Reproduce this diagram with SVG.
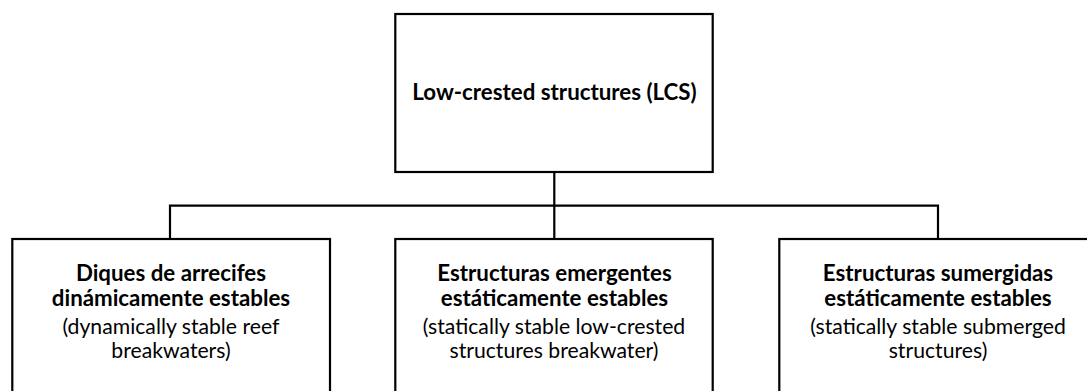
<svg xmlns="http://www.w3.org/2000/svg" width="1087" height="391" viewBox="0 0 1087 391">
<style>
.box{fill:#fff;stroke:#000;stroke-width:2.2}
.conn{fill:none;stroke:#000;stroke-width:2.2}
text{font-family:Lato,"Liberation Sans",sans-serif;fill:#000;text-anchor:middle}
.b{font-weight:bold;font-size:22.3px}
.r{font-size:21.2px}
</style>
<rect width="1087" height="391" fill="#fff"/>
<g id="connectors">
<path class="conn" d="M554.3,172 V238.5 M170,238.5 V205.7 H938 V238.5"/>
</g>
<g id="lcs">
<rect class="box" x="395.3" y="14" width="317.4" height="158"/>
<text class="b" x="554.5" y="99.5">Low-crested structures (LCS)</text>
</g>
<g id="dynamic">
<rect class="box" x="12.3" y="239" width="317.7" height="170"/>
<text class="b"><tspan x="171" y="281">Diques de arrecifes</tspan><tspan x="171" y="306">dinámicamente estables</tspan></text>
<text class="r"><tspan x="171" y="333.5">(dynamically stable reef</tspan><tspan x="171" y="358">breakwaters)</tspan></text>
</g>
<g id="emergent">
<rect class="box" x="395.3" y="239" width="317.4" height="170"/>
<text class="b"><tspan x="554.5" y="281">Estructuras emergentes</tspan><tspan x="554.5" y="306">estáticamente estables</tspan></text>
<text class="r"><tspan x="554" y="333.5">(statically stable low-crested</tspan><tspan x="554" y="358">structures breakwater)</tspan></text>
</g>
<g id="submerged">
<rect class="box" x="779.3" y="239" width="317.7" height="170"/>
<text class="b"><tspan x="938" y="281">Estructuras sumergidas</tspan><tspan x="938" y="306">estáticamente estables</tspan></text>
<text class="r"><tspan x="938" y="333.5">(statically stable submerged</tspan><tspan x="938" y="358">structures)</tspan></text>
</g>
</svg>
